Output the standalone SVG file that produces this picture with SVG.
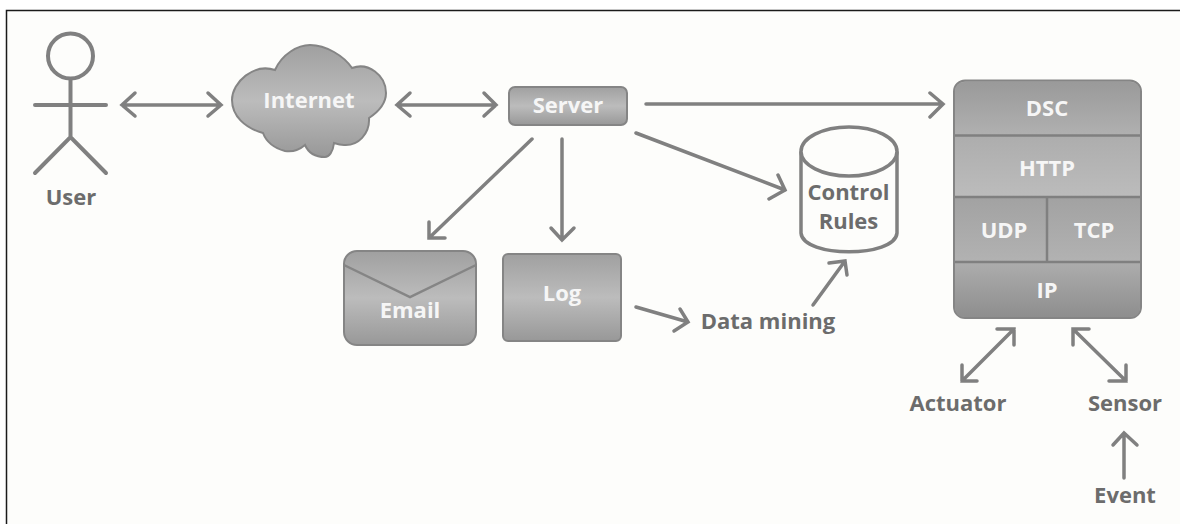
<svg xmlns="http://www.w3.org/2000/svg" width="1180" height="524" viewBox="0 0 1180 524">
<defs>
<linearGradient id="g1" x1="0" y1="0" x2="0" y2="1"><stop offset="0" stop-color="#a0a0a0"/><stop offset=".5" stop-color="#bcbcbc"/><stop offset="1" stop-color="#989898"/></linearGradient>
<linearGradient id="gd" x1="0" y1="0" x2="0" y2="1"><stop offset="0" stop-color="#9a9a9a"/><stop offset="1" stop-color="#b0b0b0"/></linearGradient>
<linearGradient id="gh" x1="0" y1="0" x2="0" y2="1"><stop offset="0" stop-color="#adadad"/><stop offset="1" stop-color="#bcbcbc"/></linearGradient>
<linearGradient id="gu" x1="0" y1="0" x2="0" y2="1"><stop offset="0" stop-color="#a2a2a2"/><stop offset="1" stop-color="#b2b2b2"/></linearGradient>
<linearGradient id="gi" x1="0" y1="0" x2="0" y2="1"><stop offset="0" stop-color="#adadad"/><stop offset="1" stop-color="#8e8e8e"/></linearGradient>
</defs>
<style>
text{font-family:"Open Sans","Noto Sans","Liberation Sans",sans-serif;font-weight:700;text-anchor:middle;font-size:22px}
.w{fill:#f6f6f6}.d{fill:#6c6c6c}
.s{fill:url(#g1);stroke:#858585;stroke-width:2}
.l{fill:none;stroke:#808080;stroke-width:3.5;stroke-linecap:round;stroke-linejoin:miter}
.o{fill:none;stroke:#808080;stroke-width:4}
.t{stroke:#808080;stroke-width:2.5;fill:none}
.c{fill:#fdfdfb;stroke:#808080;stroke-width:3.5}
</style>
<rect x="0" y="0" width="1180" height="524" fill="#ffffff"/>
<rect x="6.500" y="10.500" width="1180" height="520" fill="#fdfdfb" stroke="#1a1a1a" stroke-width="1.500"/>
<g id="user">
<circle cx="70.500" cy="56" r="22.500" class="o"/>
<path class="o" d="M70.500 79V137M35 105H106M35 173L70.500 137L106 173" stroke-linecap="round"/>
<text class="d" x="71" y="205">User</text>
</g>
<g id="internet">
<path class="s" d="M275 70C282 54 298 45 310 45C326 45 344 56 352 68C368 62 386 75 386 93C386 104 378 112 369 118C370 134 358 146 344 145C340 145 337 144 334 143C333 152 329 157 325 157C315 157 308 152 305 145C298 151 291 152 285 151C274 148 266 141 263 133C245 128 232 116 232 100C232 82 254 63 275 70Z"/>
<text class="w" x="309" y="108">Internet</text>
</g>
<g id="server">
<rect class="s" x="509" y="87" width="118" height="38" rx="6"/>
<text class="w" x="568" y="113">Server</text>
</g>
<g id="dsc">
<rect x="954" y="80.500" width="187" height="237.500" rx="11" fill="#a8a8a8" stroke="#858585" stroke-width="2"/>
<path fill="url(#gd)" d="M955 135V92Q955 82 965 82H1130Q1140 82 1140 92V135Z"/>
<rect fill="url(#gh)" x="955" y="136" width="185" height="61"/>
<rect fill="url(#gu)" x="955" y="197" width="92" height="65"/>
<rect fill="url(#gu)" x="1047" y="197" width="93" height="65"/>
<path fill="url(#gi)" d="M955 262H1140V307Q1140 317 1130 317H965Q955 317 955 307Z"/>
<path class="t" d="M955 135.500H1140M955 197H1140M955 262H1140M1047 197V262"/>
<text class="w" x="1047" y="116">DSC</text>
<text class="w" x="1047" y="176">HTTP</text>
<text class="w" x="1004" y="238">UDP</text>
<text class="w" x="1094" y="238">TCP</text>
<text class="w" x="1047" y="298">IP</text>
</g>
<g id="rules">
<path class="c" d="M801 151.500V233C803 258 895 258 897 233V151.500"/>
<ellipse class="c" cx="849" cy="151.500" rx="48" ry="24.500"/>
<text class="d" x="848.500" y="200">Control</text>
<text class="d" x="848.500" y="229">Rules</text>
</g>
<g id="email">
<rect class="s" x="344" y="251" width="132" height="94" rx="13"/>
<path d="M344 265L410 297L476 265" fill="none" stroke="#858585" stroke-width="2.500"/>
<text class="w" x="410" y="318">Email</text>
</g>
<g id="log">
<rect class="s" x="503" y="254" width="118" height="87" rx="5"/>
<text class="w" x="562" y="301">Log</text>
</g>
<g id="labels">
<text id="mining" class="d" x="768" y="329">Data mining</text>
<text id="actuator" class="d" x="958" y="411">Actuator</text>
<text id="sensor" class="d" x="1125" y="411">Sensor</text>
<text id="event" class="d" x="1125" y="503">Event</text>
</g>
<g id="connectors">
<path class="l" d="M122 105H221M135 93L122 105L135 116M208 93L221 105L208 116"/>
<path class="l" d="M397 105H496M410 93L397 105L410 116M484 93L496 105L484 116"/>
<path class="l" d="M646 104H943M930 93L943 104L930 117"/>
<path class="l" d="M532 139L429 238M429 222L429 238L445 238"/>
<path class="l" d="M562 139V240M551 228L562 240L574 228"/>
<path class="l" d="M636 133L785 190M778 175L785 190L769 199"/>
<path class="l" d="M636 307L688 322M680 309L688 322L674 331"/>
<path class="l" d="M813 305L845 261M829 263L845 261L847 275"/>
<path class="l" d="M1014 329L962 381M997 329L1014 329L1014 345M962 365L962 381L977 381"/>
<path class="l" d="M1073 329L1126 381M1073 345L1073 329L1089 329M1109 381L1126 381L1126 365"/>
<path class="l" d="M1124 478V433M1113 445L1124 433L1137 445"/>
</g>
</svg>
